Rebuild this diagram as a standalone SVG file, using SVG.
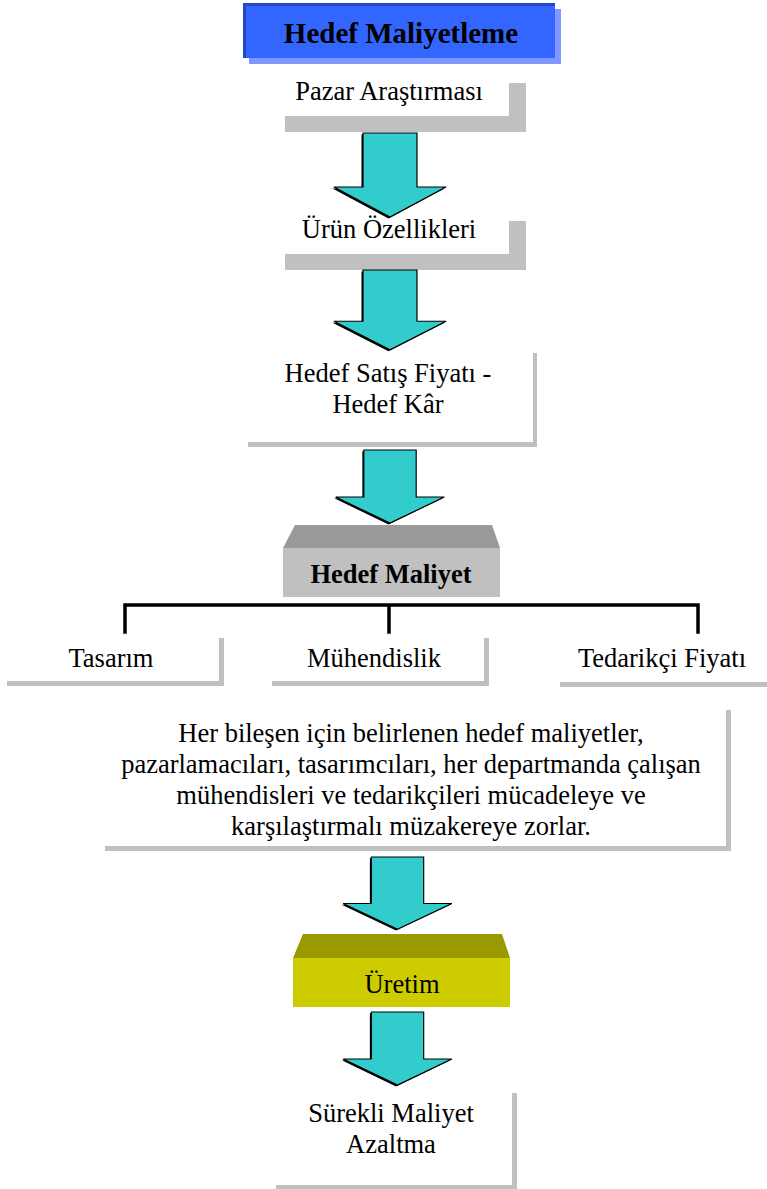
<svg xmlns="http://www.w3.org/2000/svg" width="767" height="1189" viewBox="0 0 767 1189">
<defs>
<style>
text{font-family:"Liberation Serif","Times New Roman",serif;fill:#000;text-anchor:middle}
.t{font-size:26.5px}
.b{font-weight:bold}
.sh{fill:#c0c0c0}
.bg{fill:#fff}
.arr{fill:#33cccc;stroke:#000;stroke-width:1.2;stroke-linejoin:miter}
.arrs{fill:#000}
.bus{stroke:#000;stroke-width:3.5;fill:none;stroke-linecap:square}
</style>
<polygon id="arrowShape" points="-27,0 27,0 27,54 56,54 0,84 -56,54 -27,54"/>
</defs>
<rect width="767" height="1189" fill="#fff"/>

<g id="title">
<rect x="249" y="9" width="312" height="55" fill="#7f97ff"/>
<rect x="243" y="3" width="312" height="55" fill="#2448c8"/>
<rect x="246" y="6" width="309" height="52" fill="#3366ff"/>
<text x="401" y="43" class="b" style="font-size:29px">Hedef Maliyetleme</text>
</g>

<g id="pazar">
<rect x="285" y="83" width="241" height="49" class="sh"/>
<rect x="269" y="67" width="240" height="49" class="bg"/>
<text x="389" y="100" class="t">Pazar Araştırması</text>
</g>

<g id="urun">
<rect x="285" y="221" width="241" height="49" class="sh"/>
<rect x="269" y="205" width="240" height="49" class="bg"/>
<text x="389" y="238" class="t">Ürün Özellikleri</text>
</g>

<g id="satis">
<rect x="248" y="353" width="289" height="94" class="sh"/>
<rect x="243" y="348" width="290" height="94" class="bg"/>
<text x="388" y="382" class="t">Hedef Satış Fiyatı -</text>
<text x="388" y="413" class="t">Hedef Kâr</text>
</g>

<g id="hedefMaliyet">
<polygon points="295,525 492,525 500,548 283,548" fill="#999999"/>
<rect x="283" y="548" width="217" height="49" fill="#c0c0c0"/>
<text x="391" y="583" class="b" style="font-size:26.5px">Hedef Maliyet</text>
</g>

<g id="tasarim">
<rect x="219" y="638" width="5" height="48" class="sh"/>
<rect x="7" y="681" width="217" height="5" class="sh"/>
<text x="111" y="667" class="t">Tasarım</text>
</g>

<g id="muhendislik">
<rect x="484" y="638" width="5" height="48" class="sh"/>
<rect x="272" y="681" width="217" height="5" class="sh"/>
<text x="374" y="667" class="t">Mühendislik</text>
</g>

<g id="tedarikci">
<rect x="560" y="682" width="207" height="5" class="sh"/>
<text x="662" y="667" class="t">Tedarikçi Fiyatı</text>
</g>

<g id="aciklama">
<rect x="726" y="710" width="5" height="141" class="sh"/>
<rect x="105" y="846" width="626" height="5" class="sh"/>
<text x="411" y="742" class="t">Her bileşen için belirlenen hedef maliyetler,</text>
<text x="411" y="773" class="t">pazarlamacıları, tasarımcıları, her departmanda çalışan</text>
<text x="411" y="804" class="t">mühendisleri ve tedarikçileri mücadeleye ve</text>
<text x="411" y="835" class="t">karşılaştırmalı müzakereye zorlar.</text>
</g>

<g id="uretim">
<polygon points="303,934 502,934 510,958 293,958" fill="#999900"/>
<rect x="293" y="958" width="217" height="49" fill="#cccc00"/>
<text x="402" y="993" class="t">Üretim</text>
</g>

<g id="surekli">
<rect x="512" y="1093" width="5" height="96" class="sh"/>
<rect x="276" y="1185" width="241" height="4" class="sh"/>
<text x="391" y="1122" class="t">Sürekli Maliyet</text>
<text x="391" y="1153" class="t">Azaltma</text>
</g>

<g id="connectors">
<g transform="translate(390,133)"><use href="#arrowShape" class="arrs" transform="translate(-1.5,1.5)"/><use href="#arrowShape" class="arr"/></g>
<g transform="translate(390,270) scale(1,0.95)"><use href="#arrowShape" class="arrs" transform="translate(-1.5,1.5)"/><use href="#arrowShape" class="arr"/></g>
<g transform="translate(390,450) scale(0.97,0.87)"><use href="#arrowShape" class="arrs" transform="translate(-1.5,1.5)"/><use href="#arrowShape" class="arr"/></g>
<g transform="translate(397.5,857) scale(0.97,0.86)"><use href="#arrowShape" class="arrs" transform="translate(-1.5,1.5)"/><use href="#arrowShape" class="arr"/></g>
<g transform="translate(397.5,1012) scale(0.97,0.87)"><use href="#arrowShape" class="arrs" transform="translate(-1.5,1.5)"/><use href="#arrowShape" class="arr"/></g>
<path class="bus" d="M125,632 V605 H698 V632 M389,605 V632"/>
</g>
</svg>
